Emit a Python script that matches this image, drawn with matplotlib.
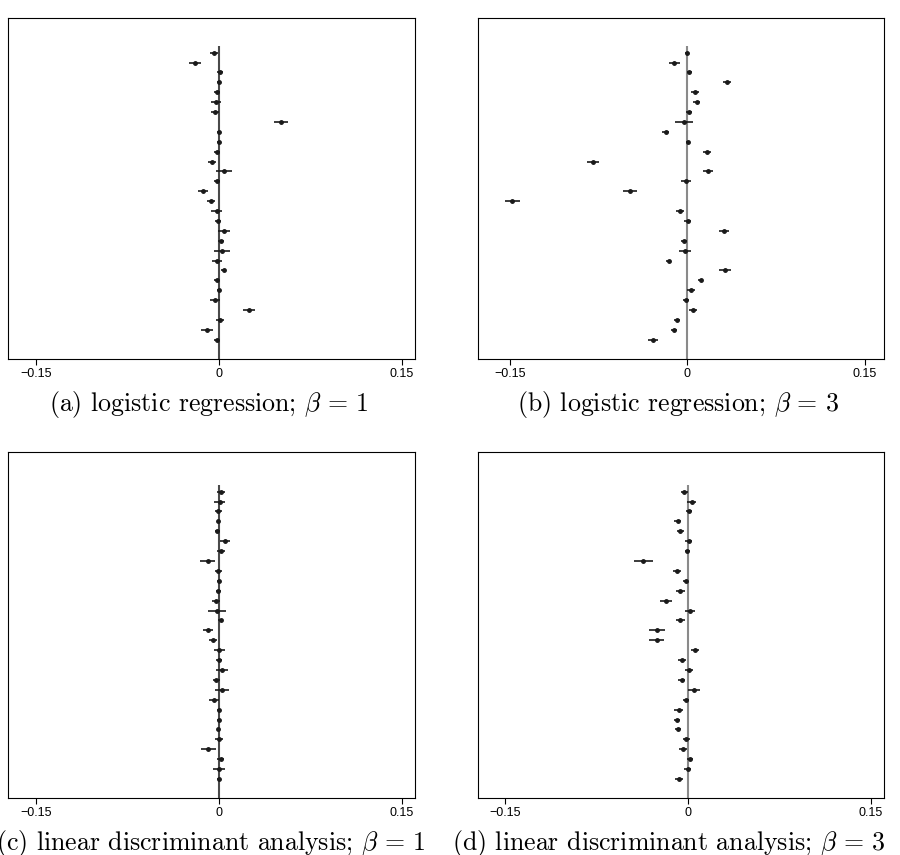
import matplotlib
matplotlib.use("Agg")
import matplotlib.pyplot as plt
import numpy as np

plt.rcParams['mathtext.fontset'] = 'cm'
plt.rcParams['font.family'] = ['Liberation Sans', 'DejaVu Sans']

rows = list(range(30, 0, -1))

est_a = [-0.0043, -0.0195, 0.0012, 0.0004, -0.0018, -0.0023, -0.0034, 0.0507, 0.0001, 0.0000,
         -0.0018, -0.0056, 0.0040, -0.0015, -0.0133, -0.0067, -0.0018, -0.0007, 0.0045, 0.0020,
         0.0026, -0.0018, 0.0040, -0.0018, 0.0004, -0.0030, 0.0248, 0.0007, -0.0100, -0.0018]
err_a = [0.0033, 0.0049, 0.0025, 0.0016, 0.0025, 0.0041, 0.0033, 0.0057, 0.0016, 0.0016,
         0.0025, 0.0033, 0.0066, 0.0025, 0.0041, 0.0035, 0.0045, 0.0025, 0.0049, 0.0025,
         0.0066, 0.0041, 0.0021, 0.0021, 0.0016, 0.0041, 0.0049, 0.0033, 0.0049, 0.0021]

est_b = [0.0000, -0.0112, 0.0018, 0.0331, 0.0063, 0.0080, 0.0013, -0.0027, -0.0181, 0.0007,
         0.0162, -0.0800, 0.0173, -0.0010, -0.0483, -0.1479, -0.0061, 0.0004, 0.0308, -0.0032,
         -0.0018, -0.0156, 0.0317, 0.0111, 0.0032, -0.0015, 0.0049, -0.0086, -0.0111, -0.0291]
err_b = [0.0017, 0.0046, 0.0021, 0.0034, 0.0034, 0.0030, 0.0025, 0.0076, 0.0030, 0.0017,
         0.0034, 0.0051, 0.0042, 0.0042, 0.0059, 0.0063, 0.0034, 0.0030, 0.0042, 0.0025,
         0.0051, 0.0021, 0.0051, 0.0025, 0.0034, 0.0025, 0.0034, 0.0025, 0.0025, 0.0042]

est_c = [0.0018, 0.0007, -0.0004, -0.0004, -0.0012, 0.0053, 0.0015, -0.0092, -0.0004, 0.0000,
         -0.0004, -0.0026, -0.0018, 0.0015, -0.0089, -0.0050, 0.0004, 0.0004, 0.0023, -0.0023,
         0.0026, -0.0043, 0.0000, 0.0000, -0.0004, 0.0004, -0.0086, 0.0015, 0.0002, 0.0000]
err_c = [0.0035, 0.0045, 0.0029, 0.0016, 0.0021, 0.0041, 0.0033, 0.0062, 0.0025, 0.0016,
         0.0021, 0.0033, 0.0074, 0.0021, 0.0041, 0.0033, 0.0045, 0.0025, 0.0049, 0.0029,
         0.0057, 0.0041, 0.0016, 0.0016, 0.0016, 0.0033, 0.0062, 0.0029, 0.0049, 0.0016]

est_d = [-0.0030, 0.0033, 0.0008, -0.0082, -0.0063, 0.0008, -0.0006, -0.0365, -0.0090, -0.0016,
         -0.0060, -0.0178, 0.0019, -0.0060, -0.0250, -0.0255, 0.0060, -0.0047, 0.0013, -0.0049,
         0.0054, -0.0014, -0.0074, -0.0090, -0.0080, -0.0014, -0.0036, 0.0019, 0.0000, -0.0069]
err_d = [0.0029, 0.0037, 0.0025, 0.0029, 0.0029, 0.0029, 0.0021, 0.0078, 0.0033, 0.0021,
         0.0033, 0.0049, 0.0041, 0.0033, 0.0066, 0.0062, 0.0033, 0.0033, 0.0033, 0.0029,
         0.0049, 0.0025, 0.0037, 0.0025, 0.0025, 0.0029, 0.0033, 0.0025, 0.0029, 0.0033]

captions = [r"(a) logistic regression; $\beta\,=\,1$",
            r"(b) logistic regression; $\beta\,=\,3$",
            r"(c) linear discriminant analysis; $\beta\,=\,1$",
            r"(d) linear discriminant analysis; $\beta\,=\,3$"]

xticks = [-0.15, 0, 0.15]
xticklabels = ["\u22120.15", "0", "0.15"]

W, H = 900, 855
fig = plt.figure(figsize=(W / 100, H / 100), dpi=100)

def px_axes(x0, x1, y0, y1):
    return fig.add_axes([x0 / W, 1 - y1 / H, (x1 - x0) / W, (y1 - y0) / H])

panels = [
    dict(box=(8.3, 415, 18, 359), est=est_a, err=err_a, xlim=(-0.173, 0.161), ylim=(-0.95, 33.5),
         line='#4a4a4a', pos=(209, 411)),
    dict(box=(477.7, 884, 18, 359), est=est_b, err=err_b, xlim=(-0.177, 0.166), ylim=(-0.95, 33.5),
         line='#8a8a8a', pos=(678, 411)),
    dict(box=(8.3, 415, 452, 798.3), est=est_c, err=err_c, xlim=(-0.173, 0.161), ylim=(-0.95, 34.0),
         line='#4a4a4a', pos=(211, 850)),
    dict(box=(477.7, 884, 452, 798.3), est=est_d, err=err_d, xlim=(-0.1724, 0.161), ylim=(-0.95, 34.0),
         line='#8a8a8a', pos=(669, 850)),
]

for p, cap in zip(panels, captions):
    ax = px_axes(*p['box'])
    ax.set_xlim(*p['xlim'])
    ax.set_ylim(*p['ylim'])
    ax.vlines(0, p['ylim'][0], 30.7, color=p['line'], lw=1.5, zorder=1)
    ax.errorbar(p['est'], rows, xerr=p['err'], fmt='o', color='#1a1a1a', ms=2.5,
                elinewidth=1.2, capsize=0, zorder=3)
    ax.set_xticks(xticks)
    ax.set_xticklabels(xticklabels, fontsize=9)
    ax.set_yticks([])
    ax.tick_params(axis='x', direction='out', length=4.5, width=0.8, pad=2)
    for s in ax.spines.values():
        s.set_linewidth(0.8)
        s.set_color('black')
    fig.text(p['pos'][0] / W, 1 - p['pos'][1] / H, cap, ha='center', va='baseline',
             fontsize=18.6, fontfamily='cmr10')

fig.savefig("out.png", dpi=100)
